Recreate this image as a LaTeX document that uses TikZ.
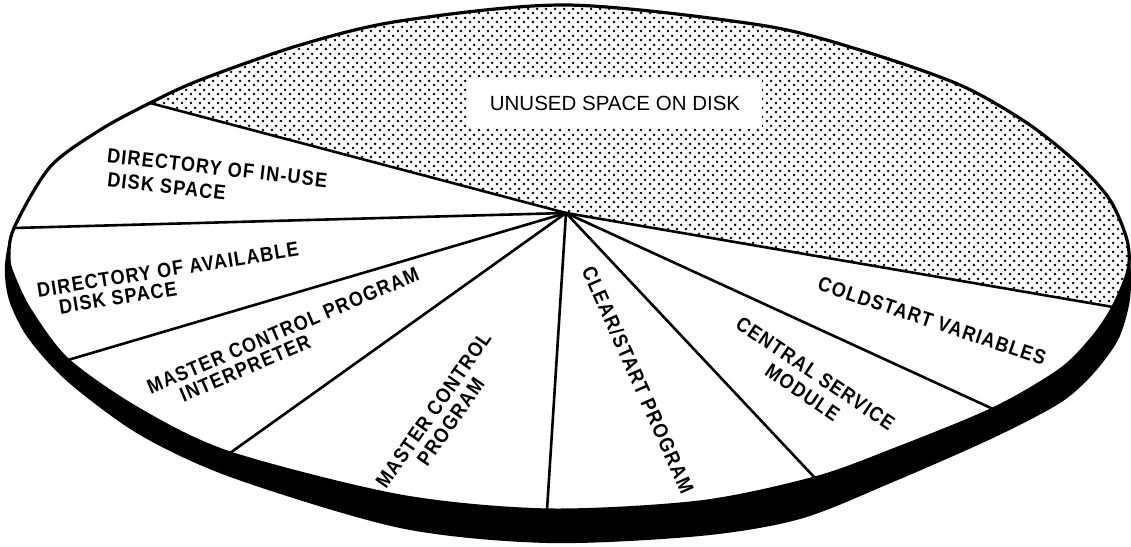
\documentclass[tikz,border=0pt]{standalone}
\usepackage{fontspec}
\setmainfont{Liberation Sans}
\newfontfamily\lblfont{Liberation Sans}[FakeStretch=0.88, LetterSpace=6]
\usetikzlibrary{patterns.meta}
\tikzdeclarepattern{
  name=halftone,
  type=colored,
  bounding box={(0pt,0pt) and (9pt,9pt)},
  tile size={(9pt,9pt)},
  code={\fill[black] (2.25pt,2.25pt) circle (1.55pt);
        \fill[black] (6.75pt,6.75pt) circle (1.55pt);}
}
\tikzset{
  lbl/.style={font=\lblfont\bfseries\fontsize{20.5}{24}\selectfont, inner sep=0pt},
  ray/.style={line width=2.6pt, line cap=round},
}
\begin{document}
\begin{tikzpicture}[x=1pt,y=-1pt]
\useasboundingbox (0,0) rectangle (1131,546);
% rim (underside)
\fill[black] plot[smooth cycle] coordinates {(14,228) (50,167) (100,130) (150,103) (200,80) (300,45) (400,21) (567,5) (760,25) (860,50) (960,85) (1027,123) (1077,163) (1110,200) (1127,240) (1131,275) (1129,305) (1118,340) (1093,374) (1060,403) (993,438) (893,482) (800,519) (700,536) (547,543) (400,528) (233,478) (140,435) (68,382) (28,338) (9,300) (5,265)};
% top face
\path[save path=\toppath] plot[smooth cycle] coordinates {(9,258) (14,228) (50,167) (100,130) (150,103) (200,80) (300,45) (400,21) (567,5) (760,25) (860,50) (960,85) (1027,123) (1077,163) (1110,200) (1127,240) (1128,270) (1113,307) (1093,337) (1060,370) (993,409) (893,450) (815,478) (700,502) (547,510) (400,496) (230,453) (140,410) (68,360) (30,310) (13,275)};
\fill[white, use path=\toppath];
\coordinate (hub) at (566,213);
\coordinate (e1) at (150,103);
\coordinate (e2) at (14,228);
\coordinate (e3) at (68,360);
\coordinate (e4) at (230,453);
\coordinate (e5) at (547,510);
\coordinate (e6) at (815,478);
\coordinate (e7) at (993,409);
\coordinate (e8) at (1113,307);
\begin{scope}
\path[clip, use path=\toppath];
\fill[pattern=halftone] (hub) -- (0,63) -- (0,0) -- (1131,0) -- (1131,310) -- cycle;
\end{scope}
\node[fill=white, minimum width=294pt, minimum height=50pt, inner sep=0pt,
      font=\fontsize{20.5}{24}\selectfont] (unused) at (615,103) {UNUSED SPACE ON DISK};
\foreach \e in {e1,e2,e3,e4,e5,e6,e7,e8} \draw[ray] (hub) -- (\e);
\draw[line width=3.2pt, use path=\toppath];
% labels
\node[lbl, rotate=-6.5, anchor=north west, align=left] (inuse) at (108,148)
  {DIRECTORY OF IN-USE\\\hspace*{3pt}DISK SPACE};
\node[lbl, font=\lblfont\bfseries\fontsize{20.5}{20}\selectfont, rotate=9, anchor=north west, align=left] (avail) at (36,283)
  {DIRECTORY OF AVAILABLE\\\hspace*{19pt}DISK SPACE};
\node[lbl, font=\lblfont\bfseries\fontsize{20.5}{20}\selectfont, rotate=23, anchor=north west, align=left] (mcpi) at (145,381)
  {MASTER CONTROL PROGRAM\\\hspace*{27pt}INTERPRETER};
\node[lbl, font=\lblfont\bfseries\fontsize{20.5}{21}\selectfont, rotate=55, align=center] (mcp) at (442,416)
  {MASTER CONTROL\\PROGRAM};
\node[lbl, rotate=-66] (clear) at (638,380) {CLEAR/START PROGRAM};
\node[lbl, font=\lblfont\bfseries\fontsize{20.5}{23}\selectfont, rotate=-34, align=center] (csm) at (809,383)
  {CENTRAL SERVICE\\MODULE};
\node[lbl, rotate=-18.5] (cold) at (932,321) {COLDSTART VARIABLES};
\end{tikzpicture}
\end{document}
